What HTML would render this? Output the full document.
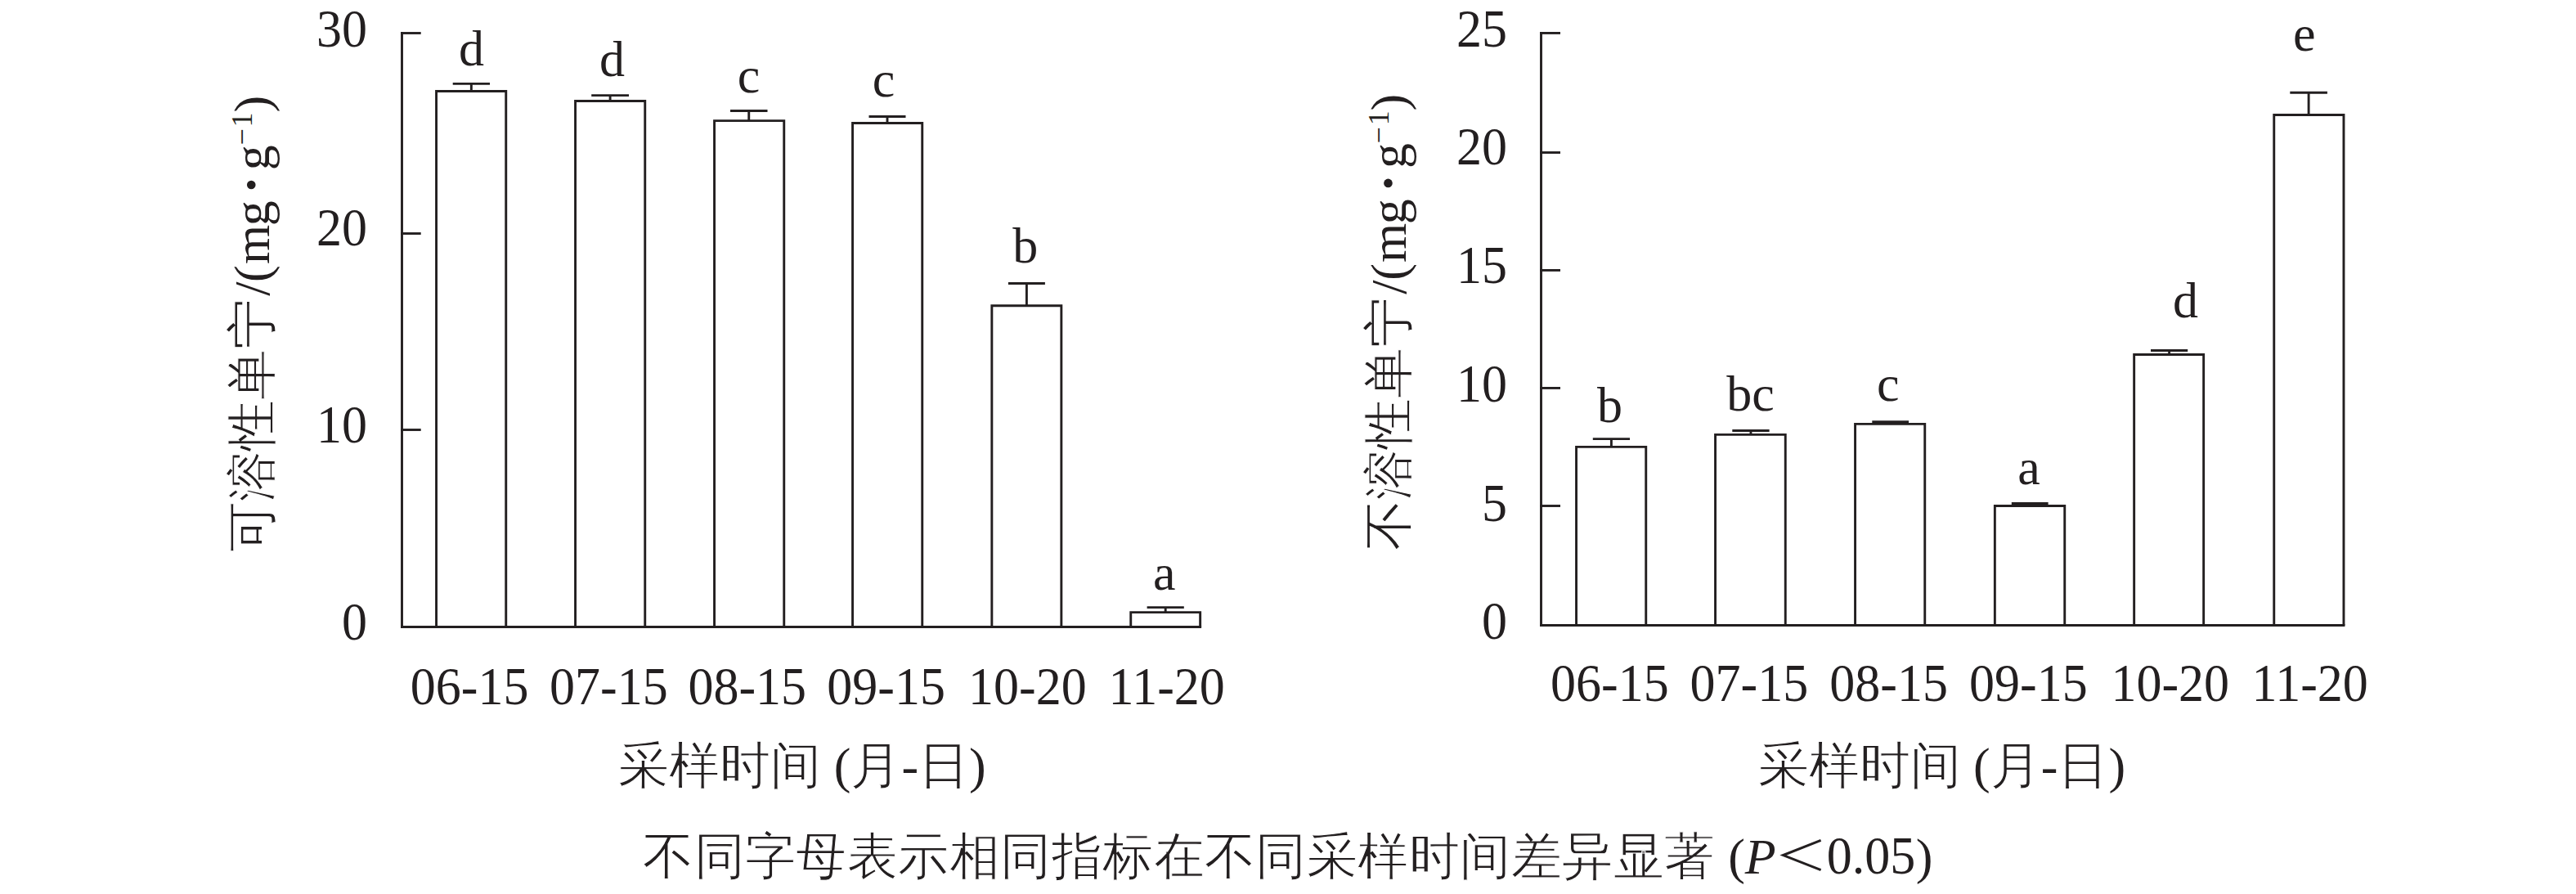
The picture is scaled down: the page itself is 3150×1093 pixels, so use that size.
<!DOCTYPE html>
<html><head><meta charset="utf-8"><style>
html,body{margin:0;padding:0;background:#fff;width:3150px;height:1093px;overflow:hidden}
svg{display:block}
text{font-family:"Liberation Serif",serif;font-size:62px;fill:#231f20}
.cj{stroke:#fff;stroke-width:1px}
</style></head><body>
<svg width="3150" height="1093" viewBox="0 0 3150 1093">
<rect width="3150" height="1093" fill="#fff"/>
<g fill="none" stroke="#231f20" stroke-width="2.9" stroke-linecap="butt" stroke-linejoin="miter">
<line x1="491.5" y1="39.0" x2="491.5" y2="767.95"/>
<line x1="490.05" y1="40.5" x2="514.7" y2="40.5"/>
<line x1="490.05" y1="285.5" x2="514.7" y2="285.5"/>
<line x1="490.05" y1="525.5" x2="514.7" y2="525.5"/>
<line x1="490.05" y1="766.5" x2="1469.1" y2="766.5"/>
<path d="M533.55,766.5 V111.5 H618.75 V766.5"/>
<path d="M576.35,111.5 V102.4 M553.70,102.4 H599.00"/>
<path d="M703.55,766.5 V123.5 H788.75 V766.5"/>
<path d="M746.10,123.5 V116.6 M723.20,116.6 H769.00"/>
<path d="M873.55,766.5 V147.6 H958.75 V766.5"/>
<path d="M915.75,147.6 V135.5 M893.00,135.5 H938.50"/>
<path d="M1042.55,766.5 V150.5 H1127.75 V766.5"/>
<path d="M1085.00,150.5 V142.5 M1062.50,142.5 H1107.50"/>
<path d="M1212.85,766.5 V373.7 H1297.85 V766.5"/>
<path d="M1255.40,373.7 V346.5 M1232.90,346.5 H1277.90"/>
<path d="M1382.75,766.5 V748.6 H1467.65 V766.5"/>
<path d="M1425.20,748.6 V742.6 M1402.60,742.6 H1447.80"/>
<line x1="1884.5" y1="39.0" x2="1884.5" y2="765.9000000000001"/>
<line x1="1883.05" y1="40.45" x2="1908.0" y2="40.45"/>
<line x1="1883.05" y1="186.5" x2="1908.0" y2="186.5"/>
<line x1="1883.05" y1="330.45" x2="1908.0" y2="330.45"/>
<line x1="1883.05" y1="474.45" x2="1908.0" y2="474.45"/>
<line x1="1883.05" y1="618.5" x2="1908.0" y2="618.5"/>
<line x1="1883.05" y1="764.45" x2="2867.4" y2="764.45"/>
<path d="M1927.55,764.45 V546.4 H2012.75 V764.45"/>
<path d="M1970.40,546.4 V536.6 M1947.80,536.6 H1993.00"/>
<path d="M2097.55,764.45 V531.4 H2183.25 V764.45"/>
<path d="M2140.95,531.4 V526.5 M2118.30,526.5 H2163.60"/>
<path d="M2268.55,764.45 V518.4 H2353.75 V764.45"/>
<path d="M2311.65,518.4 V515.6 M2289.30,515.6 H2334.00"/>
<path d="M2439.35,764.45 V618.5 H2524.75 V764.45"/>
<path d="M2482.20,618.5 V615.5 M2459.80,615.5 H2504.60"/>
<path d="M2609.65,764.45 V433.5 H2694.65 V764.45"/>
<path d="M2652.60,433.5 V428.5 M2630.00,428.5 H2675.20"/>
<path d="M2780.75,764.45 V140.5 H2865.95 V764.45"/>
<path d="M2823.10,140.5 V113.3 M2800.30,113.3 H2845.90"/>
<path d="M2226.6,1027.4 L2180.6,1045.6 L2226.6,1063.6" stroke-width="3.1"/>
</g>
<g>
<text x="576.4" y="79.5" text-anchor="middle">d</text>
<text x="748.4" y="92.5" text-anchor="middle">d</text>
<text x="915.6" y="113.2" text-anchor="middle">c</text>
<text x="1080.6" y="118.2" text-anchor="middle">c</text>
<text x="1253.7" y="321.2" text-anchor="middle">b</text>
<text x="1423.8" y="721.3" text-anchor="middle">a</text>
<text x="1968.4" y="516.3" text-anchor="middle">b</text>
<text x="2140.4" y="502.4" text-anchor="middle">bc</text>
<text x="2308.65" y="490.2" text-anchor="middle">c</text>
<text x="2480.9" y="592.4" text-anchor="middle">a</text>
<text x="2672.45" y="387.5" text-anchor="middle">d</text>
<text x="2817.85" y="62.3" text-anchor="middle">e</text>
<text transform="translate(449,57.4) scale(1,1.05)" text-anchor="end">30</text>
<text transform="translate(449,299.8) scale(1,1.05)" text-anchor="end">20</text>
<text transform="translate(449,540.5) scale(1,1.05)" text-anchor="end">10</text>
<text transform="translate(449,781.8) scale(1,1.05)" text-anchor="end">0</text>
<text transform="translate(1843,56.5) scale(1,1.05)" text-anchor="end">25</text>
<text transform="translate(1843,201.3) scale(1,1.05)" text-anchor="end">20</text>
<text transform="translate(1843,346.0) scale(1,1.05)" text-anchor="end">15</text>
<text transform="translate(1843,491.0) scale(1,1.05)" text-anchor="end">10</text>
<text transform="translate(1843,636.5) scale(1,1.05)" text-anchor="end">5</text>
<text transform="translate(1843,780.5) scale(1,1.05)" text-anchor="end">0</text>
<text transform="translate(574.1,860.5) scale(1,1.05)" text-anchor="middle">06-15</text>
<text transform="translate(744.4,860.5) scale(1,1.05)" text-anchor="middle">07-15</text>
<text transform="translate(913.7,860.5) scale(1,1.05)" text-anchor="middle">08-15</text>
<text transform="translate(1083.65,860.5) scale(1,1.05)" text-anchor="middle">09-15</text>
<text transform="translate(1256.4,860.5) scale(1,1.05)" text-anchor="middle">10-20</text>
<text transform="translate(1426.65,860.5) scale(1,1.05)" text-anchor="middle">11-20</text>
<text transform="translate(1968.4,856.5) scale(1,1.05)" text-anchor="middle">06-15</text>
<text transform="translate(2138.9,856.5) scale(1,1.05)" text-anchor="middle">07-15</text>
<text transform="translate(2309.6,856.5) scale(1,1.05)" text-anchor="middle">08-15</text>
<text transform="translate(2480.4,856.5) scale(1,1.05)" text-anchor="middle">09-15</text>
<text transform="translate(2653.8,856.5) scale(1,1.05)" text-anchor="middle">10-20</text>
<text transform="translate(2824.6,856.5) scale(1,1.05)" text-anchor="middle">11-20</text>
<text x="981" y="957" text-anchor="middle"><tspan class="cj">采样时间</tspan> (<tspan class="cj">月</tspan>-<tspan class="cj">日</tspan>)</text>
<text x="2374.35" y="957" text-anchor="middle"><tspan class="cj">采样时间</tspan> (<tspan class="cj">月</tspan>-<tspan class="cj">日</tspan>)</text>
<text x="786.1" y="1068" text-anchor="start" class="cj" letter-spacing="0.45">不同字母表示相同指标在不同采样时间差异显著</text>
<text x="2113.2" y="1068" text-anchor="start">(<tspan font-style="italic">P</tspan></text>
<text transform="translate(2233.7000000000003,1068) scale(1,1.05)" text-anchor="start">0.05</text>
<text x="2342.8" y="1068" text-anchor="start">)</text>
<text class="cj" transform="translate(329,520) rotate(-90)" text-anchor="middle">可溶性单宁</text>
<text class="cj" transform="translate(1719.2,517.9) rotate(-90)" text-anchor="middle">不溶性单宁</text>
<text transform="translate(329,361.80) rotate(-90)">/</text>
<text transform="translate(329,344.90) rotate(-90)">(</text>
<text transform="translate(329,323.00) rotate(-90)">m</text>
<text transform="translate(329,276.30) rotate(-90)">g</text>
<text transform="translate(329,208.20) rotate(-90)">g</text>
<text transform="translate(308,177.50) rotate(-90)" style="font-size:36px">−</text>
<text transform="translate(308,155.40) rotate(-90)" style="font-size:36px">1</text>
<text transform="translate(329,137.60) rotate(-90)">)</text>
<circle cx="307.25" cy="226.00" r="5.3" fill="#231f20"/>
<text transform="translate(1719.2,359.70) rotate(-90)">/</text>
<text transform="translate(1719.2,342.80) rotate(-90)">(</text>
<text transform="translate(1719.2,320.90) rotate(-90)">m</text>
<text transform="translate(1719.2,274.20) rotate(-90)">g</text>
<text transform="translate(1719.2,206.10) rotate(-90)">g</text>
<text transform="translate(1698.2,175.40) rotate(-90)" style="font-size:36px">−</text>
<text transform="translate(1698.2,153.30) rotate(-90)" style="font-size:36px">1</text>
<text transform="translate(1719.2,135.50) rotate(-90)">)</text>
<circle cx="1697.45" cy="223.90" r="5.3" fill="#231f20"/>
</g>
</svg>
</body></html>
